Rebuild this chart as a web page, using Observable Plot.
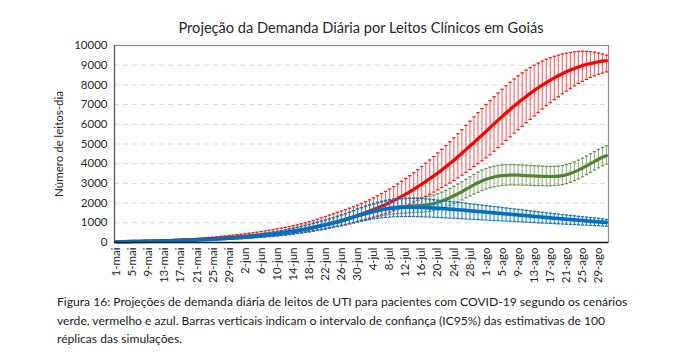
<!DOCTYPE html>
<html>
<head>
<meta charset="utf-8">
<script src="https://cdn.jsdelivr.net/npm/d3@7"></script>
<script src="https://cdn.jsdelivr.net/npm/@observablehq/plot@0.6"></script>
<style>
  html, body { margin: 0; padding: 0; background: #fff; }
  body { width: 693px; height: 358px; position: relative; overflow: hidden; font-family: Lato, "Open Sans", sans-serif; }
  #title { position: absolute; top: 19px; left: 114px; width: 494px; text-align: center; font-size: 14.6px; color: #262626; white-space: nowrap; }
  #chart { position: absolute; top: 0; left: 0; }
  #caption { position: absolute; top: 293px; left: 57px; font-size: 12.1px; line-height: 18.5px; color: #1a1a1a; white-space: nowrap; }
</style>
</head>
<body>
<div id="chart"></div>
<div id="title"></div>
<div id="caption"></div>
<script>
const title = "Projeção da Demanda Diária por Leitos Clínicos em Goiás";
const yLabel = "Número de leitos-dia";
const captionLines = [
  "Figura 16: Projeções de demanda diária de leitos de UTI para pacientes com COVID-19 segundo os cenários",
  "verde, vermelho e azul. Barras verticais indicam o intervalo de confiança (IC95%) das estimativas de 100",
  "réplicas das simulações."
];

// x tick labels (every 4 days from 1-mai); data is daily from 1-mai to 31-ago
const tickLabels = ["1-mai","5-mai","9-mai","13-mai","17-mai","21-mai","25-mai","29-mai","2-jun","6-jun","10-jun","14-jun","18-jun","22-jun","26-jun","30-jun","4-jul","8-jul","12-jul","16-jul","20-jul","24-jul","28-jul","1-ago","5-ago","9-ago","13-ago","17-ago","21-ago","25-ago","29-ago"];
const tickStep = 4;
const yTicks = [0,1000,2000,3000,4000,5000,6000,7000,8000,9000,10000];
const gridValues = [1000,2000,3000,4000,5000,6000,7000,8000,9000];

// Red scenario (vermelho)
const redMean = [40,44,47,51,55,59,63,67,71,76,80,86,92,98,105,112,119,126,134,142,150,161,172,184,196,209,222,236,250,265,278,292,307,322,337,353,370,390,411,433,456,480,508,538,570,604,640,677,716,757,800,845,893,944,998,1055,1115,1177,1241,1307,1375,1445,1518,1594,1673,1755,1840,1930,2025,2125,2230,2340,2455,2575,2700,2830,2962,3097,3235,3380,3530,3685,3845,4010,4180,4355,4533,4713,4895,5080,5266,5454,5643,5833,6022,6210,6395,6576,6753,6926,7094,7257,7415,7568,7715,7856,7990,8118,8240,8356,8466,8569,8665,8754,8836,8910,8977,9036,9088,9133,9171,9203,9230];
const redHi = [55,60,65,70,75,80,86,92,98,104,110,118,126,135,144,154,164,175,186,198,210,225,241,257,274,292,311,331,352,374,397,420,445,471,498,526,556,587,620,655,692,730,770,812,856,902,950,1000,1055,1115,1180,1250,1320,1390,1460,1530,1600,1670,1740,1815,1895,1980,2070,2165,2265,2370,2480,2595,2715,2840,2970,3105,3245,3390,3540,3695,3855,4020,4190,4365,4545,4730,4920,5115,5315,5520,5730,5945,6160,6375,6590,6800,7005,7205,7400,7590,7775,7955,8130,8300,8460,8610,8750,8880,9000,9110,9210,9300,9380,9450,9510,9565,9610,9650,9680,9700,9710,9705,9690,9660,9620,9570,9510];
const redLo = [30,33,36,39,42,45,48,51,54,57,60,64,68,73,78,83,88,93,99,105,110,118,126,135,144,154,164,175,186,197,208,220,233,246,260,275,290,305,320,337,354,370,393,417,442,468,495,523,553,584,616,650,688,727,767,808,850,900,952,1005,1058,1110,1165,1222,1280,1342,1406,1472,1540,1620,1700,1782,1865,1950,2046,2144,2244,2346,2450,2560,2672,2786,2902,3020,3150,3282,3416,3557,3700,3848,3998,4148,4299,4450,4632,4815,4998,5182,5366,5550,5725,5900,6075,6250,6425,6600,6775,6950,7100,7250,7400,7550,7685,7818,7950,8080,8180,8280,8380,8460,8540,8600,8660];

// Green scenario (verde)
const greenMean = [38,41,44,47,50,54,58,62,66,70,75,80,86,92,98,104,111,118,125,133,141,150,160,170,181,192,204,216,229,242,256,270,287,304,322,341,360,380,401,423,446,470,500,532,566,601,638,677,718,762,808,856,904,952,1000,1050,1102,1160,1222,1290,1360,1425,1482,1535,1585,1632,1675,1712,1745,1772,1795,1815,1832,1846,1858,1870,1885,1905,1935,1978,2035,2105,2185,2275,2372,2475,2585,2700,2815,2925,3030,3125,3208,3275,3328,3368,3396,3412,3420,3420,3416,3408,3398,3387,3376,3366,3358,3352,3350,3354,3366,3395,3440,3505,3585,3675,3775,3885,4000,4115,4225,4325,4410];
const greenHi = [48,51,55,59,63,67,72,77,82,87,94,100,107,115,122,130,139,147,156,166,176,187,200,212,226,240,255,270,286,302,320,335,357,379,402,426,450,476,503,531,560,600,640,682,726,771,818,867,918,972,1028,1086,1144,1202,1260,1320,1384,1454,1528,1608,1690,1762,1826,1886,1945,1997,2045,2087,2125,2154,2180,2202,2222,2238,2253,2267,2285,2315,2355,2408,2475,2555,2645,2745,2852,2965,3085,3210,3335,3455,3570,3675,3756,3821,3872,3910,3935,3948,3953,3950,3941,3932,3921,3909,3897,3886,3876,3868,3864,3866,3876,3904,3948,4012,4091,4180,4279,4388,4502,4616,4726,4825,4910];
const greenLo = [30,33,35,38,40,43,46,50,53,56,60,64,69,74,78,83,89,94,100,106,113,120,128,136,145,154,163,173,183,194,205,215,228,241,255,270,285,299,314,330,347,365,382,402,429,456,485,517,550,587,625,666,704,742,780,820,862,910,962,1020,1080,1140,1192,1240,1285,1327,1365,1397,1425,1450,1470,1488,1502,1514,1523,1533,1545,1558,1581,1617,1665,1728,1800,1883,1972,2063,2160,2263,2365,2462,2553,2635,2715,2780,2830,2868,2897,2914,2923,2924,2921,2916,2909,2901,2893,2886,2882,2880,2882,2890,2906,2938,2986,3054,3137,3230,3332,3444,3561,3678,3791,3893,3980];

// Blue scenario (azul)
const blueMean = [35,38,41,44,47,50,54,58,62,66,70,75,80,86,92,98,104,110,116,123,130,139,148,158,168,179,190,202,214,226,238,250,268,287,307,328,350,373,397,422,448,475,503,532,565,600,637,676,717,760,805,850,896,943,992,1042,1093,1157,1222,1287,1350,1410,1467,1521,1572,1620,1663,1700,1730,1754,1771,1782,1788,1790,1788,1784,1778,1770,1760,1749,1737,1724,1710,1695,1680,1664,1647,1630,1612,1594,1576,1558,1540,1522,1504,1486,1468,1450,1432,1414,1396,1378,1360,1342,1324,1306,1288,1270,1252,1234,1216,1199,1182,1165,1148,1131,1114,1097,1081,1065,1049,1033,1018];
const blueHi = [45,49,53,57,61,65,70,75,80,85,90,97,104,111,118,126,134,142,151,160,170,181,192,204,216,229,243,257,272,288,305,330,352,375,399,424,450,477,505,535,566,598,632,680,724,770,818,868,920,974,1028,1080,1140,1202,1266,1332,1400,1468,1536,1620,1700,1775,1845,1915,1980,2040,2095,2140,2180,2210,2232,2245,2250,2250,2245,2238,2230,2215,2197,2175,2150,2128,2106,2084,2062,2040,2016,1992,1968,1944,1920,1896,1872,1848,1824,1800,1776,1752,1728,1704,1680,1656,1632,1608,1584,1560,1536,1512,1488,1464,1440,1418,1396,1374,1352,1330,1310,1290,1270,1250,1230,1200,1170];
const blueLo = [25,27,29,31,33,35,38,41,44,47,50,54,58,62,66,70,75,80,85,90,96,102,109,116,123,131,139,148,158,168,179,190,203,216,230,245,261,278,296,315,335,356,378,400,428,457,487,518,550,583,616,650,692,735,778,822,866,910,954,998,1040,1083,1124,1163,1200,1228,1253,1273,1290,1302,1311,1317,1320,1320,1318,1315,1310,1301,1292,1281,1270,1260,1250,1240,1230,1220,1208,1196,1184,1172,1160,1150,1140,1130,1120,1110,1100,1090,1080,1070,1060,1048,1036,1024,1012,1000,990,980,970,960,950,940,930,920,910,900,890,880,870,860,850,840,830];

document.getElementById("title").textContent = title;
document.getElementById("caption").innerHTML = captionLines.map(s => `<div>${s}</div>`).join("");

function rows(mean, lo, hi) {
  return mean.map((m, i) => ({i, mean: m, lo: lo[i], hi: hi[i]}));
}
const series = [
  {data: rows(greenMean, greenLo, greenHi), line: "#548235", stem: "#94b380", cap: "#6a9554", lw: 3.2},
  {data: rows(redMean, redLo, redHi), line: "#ff0000", stem: "#ff6060", cap: "#ff1a1a", lw: 3.2},
  {data: rows(blueMean, blueLo, blueHi), line: "#0070c0", stem: "#2f86d0", cap: "#1874c2", lw: 3.6}
];

const seriesMarks = series.flatMap(s => [
  Plot.ruleX(s.data, {x: "i", y1: "lo", y2: "hi", stroke: s.stem, strokeWidth: 1.1}),
  Plot.link(s.data, {x1: d => d.i - 0.42, x2: d => d.i + 0.42, y1: "hi", y2: "hi", stroke: s.cap, strokeWidth: 1.3}),
  Plot.link(s.data, {x1: d => d.i - 0.42, x2: d => d.i + 0.42, y1: "lo", y2: "lo", stroke: s.cap, strokeWidth: 1.3}),
  Plot.line(s.data, {x: "i", y: "mean", stroke: s.line, strokeWidth: s.lw, curve: "monotone-x"})
]);

const tickIdx = tickLabels.map((_, k) => k * tickStep);

const chart = Plot.plot({
  width: 693,
  height: 292,
  marginLeft: 114,
  marginRight: 85,
  marginTop: 45,
  marginBottom: 50,
  style: {fontFamily: "Lato, 'Open Sans', sans-serif", fontSize: "11px", color: "#262626", background: "#fff"},
  x: {type: "linear", domain: [-0.5, redMean.length - 0.5]},
  y: {domain: [0, 10000]},
  marks: [
    Plot.ruleY(gridValues, {stroke: "#d9d9d9", strokeDasharray: "5,4", strokeWidth: 1}),
    ...seriesMarks,
    Plot.frame({stroke: "#8c8c8c", strokeWidth: 1.2}),
    Plot.ruleX([-0.5], {stroke: "#595959", strokeWidth: 1.2}),
    Plot.ruleY([0], {stroke: "#1a1a1a", strokeWidth: 1.5}),
    Plot.axisX({ticks: tickIdx, tickFormat: v => tickLabels[Math.round(v / tickStep)], tickRotate: -90, tickSize: 0, tickPadding: 5, label: null, fontSize: 11.5}),
    Plot.axisY({ticks: yTicks, tickFormat: d => String(d), tickSize: 0, tickPadding: 7, label: null, fontSize: 11.5}),
    Plot.text([yLabel], {frameAnchor: "left", dx: -55, rotate: -90, textAnchor: "middle", fontSize: 11.5, fill: "#262626"})
  ]
});
document.getElementById("chart").appendChild(chart);
</script>
</body>
</html>
